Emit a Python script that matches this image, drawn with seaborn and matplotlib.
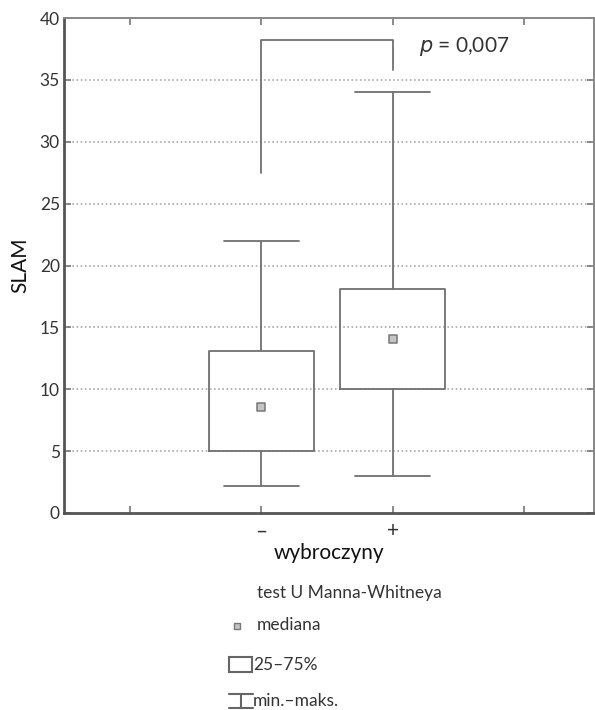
import pandas as pd
import numpy as np
import matplotlib.pyplot as plt
import matplotlib.patches as mpatches
import seaborn as sns

# values
groups = ['–', '+']
mins = [2.2, 3.0]
q1 = [5.0, 10.0]
medians = [8.6, 14.1]
q3 = [13.1, 18.1]
maxs = [22.0, 34.0]
bracket_y = [27.5, 38.2, 38.2, 35.8]
p_text = '$p$ = 0,007'
y_ticks = [0, 5, 10, 15, 20, 25, 30, 35, 40]

# five points per group give exactly min/q1/median/q3/max
rows = []
for g, a, b, c, d, e in zip(groups, mins, q1, medians, q3, maxs):
    for v in (a, b, c, d, e):
        rows.append({'grp': g, 'SLAM': v})
df = pd.DataFrame(rows)
med_df = pd.DataFrame({'grp': groups, 'SLAM': medians})

sns.set_style('white')
plt.rcParams['font.family'] = ['Lato', 'DejaVu Sans']
text_c = '#333333'
line_c = '#707070'

fig = plt.figure(figsize=(5.95, 7.1), dpi=100)
ax = fig.add_axes([0.1076, 0.2775, 0.8905, 0.6971])

sns.boxplot(data=df, x='grp', y='SLAM', order=groups, whis=(0, 100), width=0.8,
            fill=False, color=line_c, linewidth=1.3, capwidths=0.57,
            medianprops=dict(visible=False), ax=ax)
sns.scatterplot(data=med_df, x='grp', y='SLAM', marker='s', s=26, color='#c4c4c4',
                edgecolor='#777777', linewidth=1.1, ax=ax, zorder=5)

# significance bracket
ax.plot([0, 0, 1, 1], bracket_y, color=line_c, lw=1.3)
ax.text(1.2, 37.7, p_text, fontsize=15, color=text_c, va='center', ha='left')

ax.set_xlim(-1.5, 2.53)
ax.set_ylim(0, 40)
ax.set_yticks(y_ticks)
ax.set_xticks([-1, 0, 1, 2])
ax.set_xticklabels(['', '–', '+', ''], fontsize=15, color=text_c)
ax.tick_params(axis='y', labelsize=12.5, labelcolor=text_c, pad=3)
ax.tick_params(axis='x', pad=6)
ax.tick_params(direction='in', length=5, width=1.2, color='#777777',
               top=True, right=True, left=True, bottom=True)
for yv in y_ticks[1:-1]:
    ax.axhline(yv, color='#aaaaaa', lw=1.2, ls=(0, (1, 1.5)), zorder=0)

for s in ['left', 'bottom']:
    ax.spines[s].set_color('#555555')
    ax.spines[s].set_linewidth(2)
for s in ['top', 'right']:
    ax.spines[s].set_color('#888888')
    ax.spines[s].set_linewidth(1.4)

ax.set_xlabel('wybroczyny', fontsize=15, color='#111111', labelpad=1)
ax.set_ylabel('SLAM', fontsize=15, color='#111111', labelpad=7)

# legend drawn in pixel coordinates below the axes
lg = fig.add_axes([0, 0, 1, 0.24])
lg.set_xlim(0, 595)
lg.set_ylim(710, 540)
lg.axis('off')
fs = 12.5
lg.text(257, 593, 'test U Manna-Whitneya', fontsize=fs, color=text_c, va='center')
lg.plot([237], [626], marker='s', ms=5, mfc='#c4c4c4', mec='#777777', mew=1)
lg.text(257, 625, 'mediana', fontsize=fs, color=text_c, va='center')
lg.add_patch(mpatches.Rectangle((229, 657), 23, 15, fill=False, ec='#666666', lw=1.5))
lg.text(253, 665, '25–75%', fontsize=fs, color=text_c, va='center')
lg.plot([229, 253], [694, 694], color='#666666', lw=1.5)
lg.plot([241, 241], [694, 708], color='#666666', lw=1.5)
lg.plot([229, 253], [708, 708], color='#666666', lw=1.5)
lg.text(253, 701, 'min.–maks.', fontsize=fs, color=text_c, va='center')

fig.savefig('out.png', dpi=100, facecolor='white')
